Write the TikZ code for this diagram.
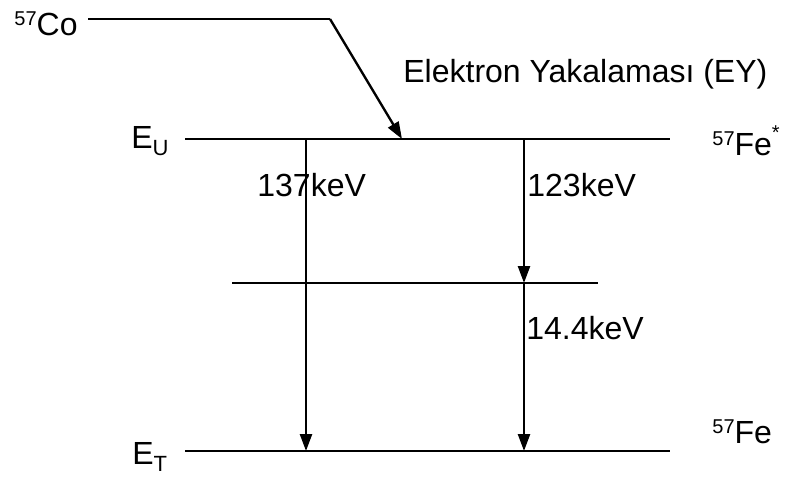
\documentclass[tikz,border=0pt]{standalone}
\usepackage{fontspec}
\setmainfont{Liberation Sans}
\usetikzlibrary{arrows.meta}
\newcommand{\iso}[1]{\raisebox{5pt}{\fontsize{10}{10}\selectfont #1}}
\newcommand{\lvl}[2]{#1\raisebox{-3.5pt}{\fontsize{11}{11}\selectfont #2}}

\begin{document}
\begin{tikzpicture}[
  x=0.5pt, y=-0.5pt,
  >={Triangle[length=8.5pt,width=6pt]},
  every node/.style={font=\fontsize{16}{18}\selectfont, inner sep=0pt},
  level/.style ={line width=1.2pt},
  trans/.style ={->, line width=1.2pt},
]
\useasboundingbox (0,0) rectangle (787,478);

%% -- energy levels -----------------------------------------
\coordinate (coL)  at (88,19);   \coordinate (coR)  at (330,19);
\coordinate (euL)  at (185,139); \coordinate (euR)  at (670,139);
\coordinate (midL) at (232,283); \coordinate (midR) at (598,283);
\coordinate (etL)  at (185,451); \coordinate (etR)  at (670,451);

\draw[level] (coL)  -- (coR);
\draw[level] (euL)  -- (euR);
\draw[level] (midL) -- (midR);
\draw[level] (etL)  -- (etR);

%% -- labels ------------------------------------------------
\node[anchor=base east] (co)   at (78,35)   {\iso{57}Co};
\node[anchor=base west] (eu)   at (131,148) {\lvl{E}{U}};
\node[anchor=base west] (et)   at (132,464) {\lvl{E}{T}};
\node[anchor=base west] (fes)  at (712,155) {\iso{57}Fe\raisebox{8pt}{\fontsize{10}{10}\selectfont *}};
\node[anchor=base west] (fe)   at (712,443) {\iso{57}Fe};
\node[anchor=base west] (ey)   at (403,82)  {Elektron Yakalaması (EY)};

%% -- transitions -------------------------------------------
\coordinate (ec)    at (402,139);
\coordinate (a137)  at (306,139); \coordinate (b137) at (306,451);
\coordinate (a123)  at (524,139); \coordinate (b123) at (524,283);
\coordinate (b144)  at (524,451);

\draw[trans] (coR)  -- (ec);
\draw[trans] (a137) -- (b137);
\draw[trans] (a123) -- (b123);
\draw[trans] (b123) -- (b144);

\node[anchor=base west] (e137) at (257,196) {137keV};
\node[anchor=base west] (e123) at (527,196) {123keV};
\node[anchor=base west] (e144) at (526,339) {14.4keV};

\end{tikzpicture}
\end{document}
